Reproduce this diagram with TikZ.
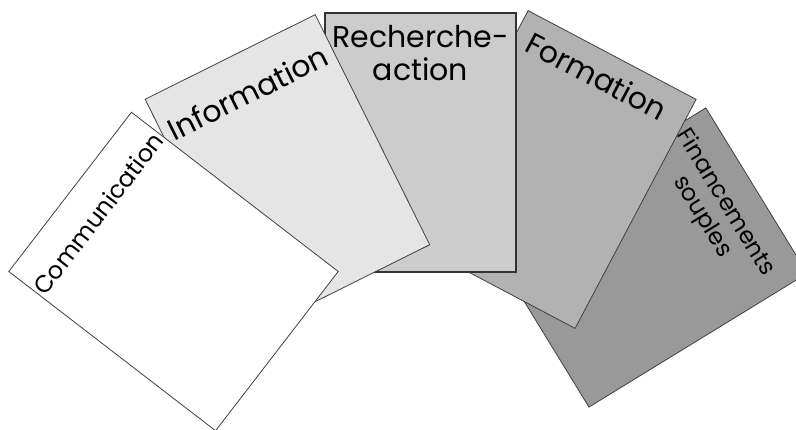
\documentclass[tikz,border=0pt]{standalone}
\usepackage{fontspec}
\setmainfont{Poppins}
\usepackage{tikz}

\begin{document}
\begin{tikzpicture}[
    x=1pt, y=1pt,
    card/.style={
        rectangle,
        draw=black!75,
        line width=0.8pt,
        minimum width=191pt,
        minimum height=259pt,
        inner sep=0pt
    },
    cardtext/.style={
        inner sep=0pt,
        anchor=north,
        align=center,
        font=\fontsize{30}{33}\selectfont
    },
    smalltext/.style={
        cardtext,
        font=\fontsize{23.5}{27}\selectfont
    }
]
    \useasboundingbox (0,0) rectangle (796,429);

    % Right-hand cards (back of the fan)
    \begin{scope}[shift={(647.4,171.5)}, rotate=-58.5, transform shape]
        \node[card, fill=black!40, minimum width=194pt, minimum height=256pt] (fin) {};
        \node[smalltext] (fin-txt) at (-6,107) {Financements\\souples};
    \end{scope}
    \begin{scope}[shift={(551.6,259.5)}, rotate=-27.85, transform shape]
        \node[card, fill=black!30, minimum width=190pt] (form) {};
        \node[cardtext] (form-txt) at (-4,115.5) {Formation};
    \end{scope}

    % Middle card
    \node[card, fill=black!20, draw=black!80, line width=1.1pt] (rech) at (420.5,286.5) {};
    \node[cardtext] (rech-txt) at (420.5,404) {Recherche-\\action};

    % Left-hand cards (front of the fan)
    \begin{scope}[shift={(287.4,257)}, rotate=26.45, transform shape]
        \node[card, fill=black!10, minimum width=190pt, minimum height=257pt] (info) {};
        \node[cardtext] (info-txt) at (0,100.5) {Information};
    \end{scope}
    \begin{scope}[shift={(173.5,157.5)}, rotate=52.4, transform shape]
        \node[card, fill=white, minimum width=201pt, minimum height=261pt] (comm) {};
        \node[cardtext, font=\fontsize{24}{27}\selectfont] (comm-txt) at (0,104.5) {Communication};
    \end{scope}
\end{tikzpicture}
\end{document}
